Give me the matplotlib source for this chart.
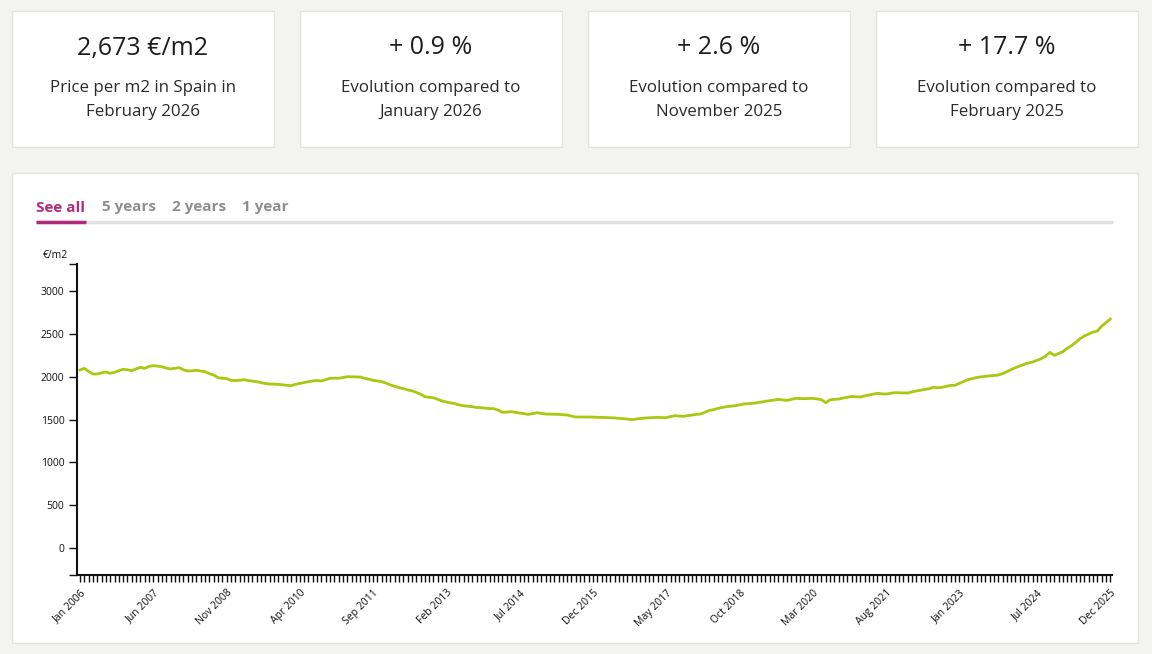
import matplotlib
matplotlib.use('Agg')
import matplotlib.pyplot as plt
from matplotlib.patches import Rectangle
import numpy as np

plt.rcParams['font.family'] = ['Open Sans', 'DejaVu Sans']

# summary cards
card_values = ['2,673 €/m2', '+ 0.9 %', '+ 2.6 %', '+ 17.7 %']
card_texts = ['Price per m2 in Spain in\nFebruary 2026',
              'Evolution compared to\nJanuary 2026',
              'Evolution compared to\nNovember 2025',
              'Evolution compared to\nFebruary 2025']

tabs = ['See all', '5 years', '2 years', '1 year']

# monthly price per m2, Jan 2006 .. Dec 2025
price_2006 = [2078, 2097, 2060, 2031, 2031, 2045, 2055, 2039, 2050, 2070, 2086, 2080]
price_2007 = [2070, 2090, 2109, 2097, 2120, 2128, 2122, 2117, 2100, 2090, 2098, 2105]
price_2008 = [2080, 2066, 2068, 2074, 2065, 2058, 2035, 2019, 1988, 1982, 1978, 1957]
price_2009 = [1955, 1957, 1965, 1955, 1948, 1941, 1930, 1920, 1914, 1912, 1911, 1905]
price_2010 = [1899, 1895, 1910, 1922, 1932, 1941, 1950, 1955, 1949, 1965, 1981, 1983]
price_2011 = [1982, 1990, 2000, 1998, 1997, 1996, 1981, 1970, 1957, 1950, 1941, 1925]
price_2012 = [1903, 1888, 1871, 1860, 1845, 1835, 1817, 1795, 1766, 1760, 1754, 1735]
price_2013 = [1716, 1705, 1693, 1685, 1669, 1660, 1655, 1650, 1640, 1638, 1632, 1628]
price_2014 = [1626, 1610, 1584, 1588, 1591, 1583, 1576, 1568, 1560, 1568, 1579, 1572]
price_2015 = [1564, 1562, 1561, 1560, 1556, 1552, 1540, 1529, 1529, 1528, 1529, 1527]
price_2016 = [1526, 1525, 1523, 1521, 1518, 1514, 1510, 1505, 1498, 1505, 1512, 1517]
price_2017 = [1520, 1523, 1525, 1522, 1521, 1535, 1544, 1540, 1537, 1545, 1552, 1560]
price_2018 = [1564, 1585, 1607, 1615, 1630, 1640, 1650, 1655, 1661, 1670, 1681, 1685]
price_2019 = [1689, 1695, 1704, 1712, 1719, 1727, 1735, 1729, 1723, 1735, 1747, 1745]
price_2020 = [1743, 1745, 1747, 1740, 1731, 1696, 1731, 1735, 1739, 1750, 1759, 1770]
price_2021 = [1765, 1762, 1775, 1786, 1795, 1805, 1800, 1797, 1805, 1813, 1812, 1810]
price_2022 = [1809, 1822, 1833, 1842, 1852, 1860, 1876, 1870, 1876, 1888, 1899, 1899]
price_2023 = [1922, 1945, 1965, 1978, 1990, 1998, 2003, 2008, 2013, 2019, 2035, 2058]
price_2024 = [2080, 2105, 2125, 2144, 2160, 2171, 2190, 2210, 2240, 2284, 2249, 2270]
price_2025 = [2292, 2330, 2362, 2400, 2443, 2475, 2498, 2520, 2533, 2590, 2630, 2673]

prices = (price_2006 + price_2007 + price_2008 + price_2009 + price_2010 +
          price_2011 + price_2012 + price_2013 + price_2014 + price_2015 +
          price_2016 + price_2017 + price_2018 + price_2019 + price_2020 +
          price_2021 + price_2022 + price_2023 + price_2024 + price_2025)

month_names = ['Jan', 'Feb', 'Mar', 'Apr', 'May', 'Jun',
               'Jul', 'Aug', 'Sep', 'Oct', 'Nov', 'Dec']
labels_all = [month_names[i % 12] + ' ' + str(2006 + i // 12) for i in range(len(prices))]

x_tick_labels = ['Jan 2006', 'Jun 2007', 'Nov 2008', 'Apr 2010', 'Sep 2011',
                 'Feb 2013', 'Jul 2014', 'Dec 2015', 'May 2017', 'Oct 2018',
                 'Mar 2020', 'Aug 2021', 'Jan 2023', 'Jul 2024', 'Dec 2025']
y_ticks = [0, 500, 1000, 1500, 2000, 2500, 3000]

W, H = 1152, 654
bg = '#f3f3f2'
border = '#e2e2e0'
magenta = '#b2287c'
lime = '#a9c80f'

fig = plt.figure(figsize=(W / 100, H / 100), dpi=100, facecolor=bg)

# page layer in pixel coordinates
page = fig.add_axes([0, 0, 1, 1])
page.set_xlim(0, W)
page.set_ylim(H, 0)
page.axis('off')

card_left = [12, 300, 588, 876]
for i in range(4):
    page.add_patch(Rectangle((card_left[i], 11), 262, 136, facecolor='white',
                             edgecolor=border, linewidth=1))
    cx = card_left[i] + 131
    page.text(cx, 48, card_values[i], ha='center', va='center', fontsize=18, color='#1e1e1e')
    page.text(cx, 100, card_texts[i], ha='center', va='center', fontsize=12.2,
              color='#2a2a2a', linespacing=1.6)

page.add_patch(Rectangle((12, 173), 1126, 470, facecolor='white', edgecolor=border, linewidth=1))

# tabs
tab_x = [36, 102, 172, 242]
for i, t in enumerate(tabs):
    page.text(tab_x[i], 207.5, t, ha='left', va='center', fontsize=11, fontweight='bold',
              color=magenta if i == 0 else '#8e8e8e')
page.plot([36, 1113], [222, 222], color='#e1e1df', linewidth=2.5, solid_capstyle='butt')
page.plot([36, 86], [222, 222], color=magenta, linewidth=2.5, solid_capstyle='butt')
page.text(43, 255, '€/m2', ha='left', va='center', fontsize=7.5, color='#111111')

# chart
ax = fig.add_axes([77 / W, 1 - 575 / H, 1035 / W, 311 / H])
ax.set_facecolor('white')
x = np.arange(len(prices))
ax.plot(x, prices, color=lime, linewidth=2)

ax.set_xlim(-0.7, 239.4)
ax.set_ylim(-315, 3315)

ax.set_yticks(y_ticks)
ax.set_yticklabels([str(v) for v in y_ticks])
ax.set_yticks(list(ax.get_ylim()), minor=True)

major_x = [labels_all.index(l) for l in x_tick_labels]
ax.set_xticks(major_x)
ax.set_xticklabels(x_tick_labels, rotation=45, ha='right', rotation_mode='anchor', fontsize=7.5)
ax.set_xticks(x, minor=True)

ax.tick_params(axis='y', which='both', length=6, width=1, labelsize=7.5, colors='#111111', pad=3)
ax.tick_params(axis='x', which='major', length=5, width=1, pad=4, colors='#111111')
ax.tick_params(axis='x', which='minor', length=5, width=1, color='#111111')

for s in ['top', 'right']:
    ax.spines[s].set_visible(False)
for s in ['left', 'bottom']:
    ax.spines[s].set_linewidth(1.5)
    ax.spines[s].set_color('#111111')

fig.savefig('out.png', dpi=100, facecolor=bg)
